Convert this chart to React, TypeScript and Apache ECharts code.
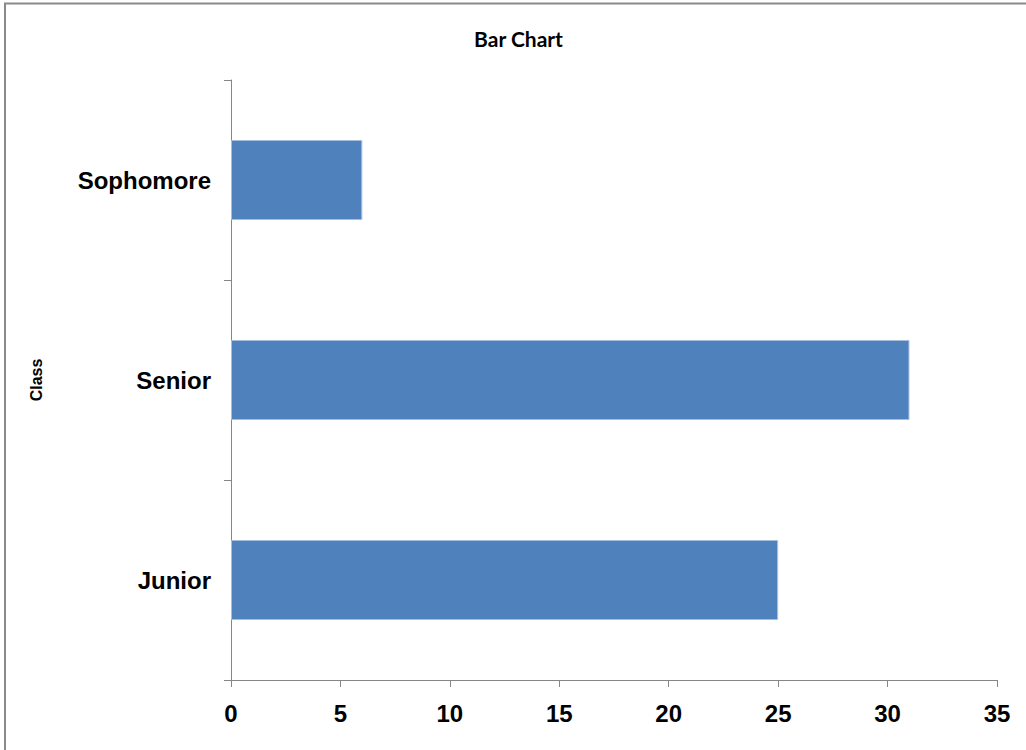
import React, { useEffect, useRef } from "react";
import * as echarts from "echarts";

const categories = ["Junior", "Senior", "Sophomore"];
const counts = [25, 31, 6];
const xTicks = [0, 5, 10, 15, 20, 25, 30, 35];

export default function App() {
  const ref = useRef<HTMLDivElement>(null);
  useEffect(() => {
    if (!ref.current) return;
    const chart = echarts.init(ref.current, null, { renderer: "svg" });
    const axisColor = "#868686";
    chart.setOption({
      animation: false,
      backgroundColor: "#ffffff",
      graphic: [
        {
          type: "polyline",
          shape: { points: [[5, 760], [5, 3.5], [1040, 3.5]] },
          style: { fill: "none", stroke: "#8a8a8a", lineWidth: 2 },
          silent: true,
        },
        {
          type: "text",
          x: 518.5,
          y: 38,
          style: {
            text: "Bar Chart",
            font: "bold 21px Lato, 'Liberation Sans', sans-serif",
            fill: "#000000",
            textAlign: "center",
            textVerticalAlign: "middle",
          },
        },
      ],
      grid: { left: 231, right: 29, top: 80, bottom: 70, containLabel: false },
      xAxis: {
        type: "value",
        min: xTicks[0],
        max: xTicks[xTicks.length - 1],
        interval: 5,
        splitLine: { show: false },
        axisLine: { show: true, lineStyle: { color: axisColor, width: 1 } },
        axisTick: { show: true, length: 7, lineStyle: { color: axisColor } },
        axisLabel: {
          margin: 21,
          color: "#000000",
          fontSize: 24,
          fontWeight: "bold",
          fontFamily: "'Liberation Sans', Arial, sans-serif",
        },
      },
      yAxis: {
        type: "category",
        data: categories,
        name: "Class",
        nameLocation: "middle",
        nameGap: 187,
        nameRotate: 90,
        nameTextStyle: {
          color: "#000000",
          fontSize: 16,
          fontWeight: "bold",
          fontFamily: "'Liberation Sans', Arial, sans-serif",
        },
        axisLine: { show: true, lineStyle: { color: axisColor, width: 1 } },
        axisTick: { show: true, length: 7, lineStyle: { color: axisColor } },
        axisLabel: {
          margin: 20,
          color: "#000000",
          fontSize: 24,
          fontWeight: "bold",
          fontFamily: "'Liberation Sans', Arial, sans-serif",
        },
      },
      series: [
        {
          type: "bar",
          data: counts,
          barWidth: 80,
          itemStyle: { color: "#4f81bd", borderColor: "#a7bfde", borderWidth: 1 },
        },
      ],
    });
    return () => chart.dispose();
  }, []);
  return (
    <div
      ref={ref}
      style={{ position: "fixed", left: 0, top: 0, width: 1026, height: 750 }}
    />
  );
}
